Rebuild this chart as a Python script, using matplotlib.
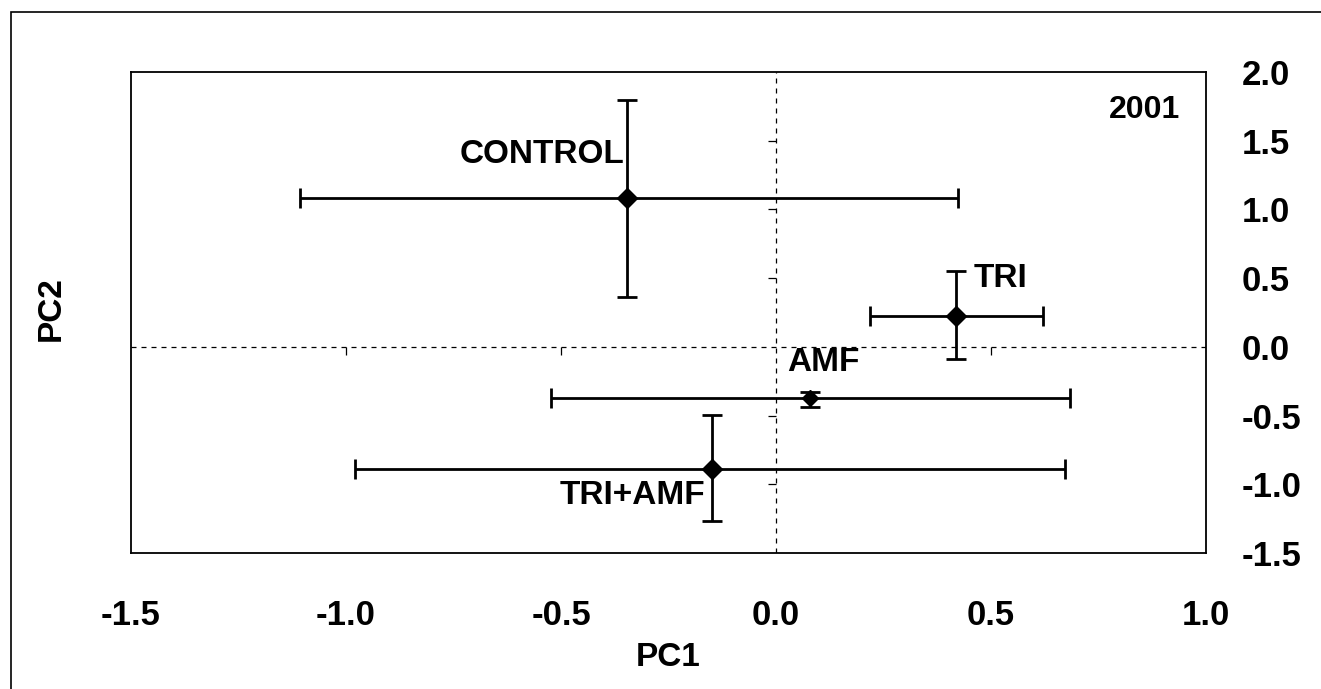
import matplotlib
matplotlib.use("Agg")
import matplotlib.pyplot as plt
from matplotlib.patches import Rectangle

plt.rcParams['font.family'] = ['Liberation Sans', 'DejaVu Sans']
plt.rcParams['font.weight'] = 'bold'

# groups and PCA scores (mean +/- error)
groups = ["CONTROL", "TRI", "AMF", "TRI+AMF"]
pc1 = [-0.347, 0.419, 0.079, -0.149]
pc2 = [1.083, 0.224, -0.373, -0.889]
pc1_lo = [-1.107, 0.219, -0.523, -0.979]
pc1_hi = [0.423, 0.621, 0.684, 0.672]
pc2_lo = [0.362, -0.089, -0.438, -1.268]
pc2_hi = [1.796, 0.552, -0.33, -0.496]

xticks = [-1.5, -1.0, -0.5, 0.0, 0.5, 1.0]
yticks = [-1.5, -1.0, -0.5, 0.0, 0.5, 1.0, 1.5, 2.0]

# label offsets from each point (dx, dy, alignment)
label_off = {"CONTROL": (-0.005, 0.32, "right"),
             "TRI": (0.04, 0.27, "left"),
             "AMF": (-0.053, 0.262, "left"),
             "TRI+AMF": (-0.016, -0.19, "right")}

fig = plt.figure(figsize=(13.21, 6.89), dpi=100)
ax = fig.add_axes([131 / 1321, 1 - 553 / 689, 1075 / 1321, 481 / 689])

# outer frame
fig.patches.append(Rectangle((11 / 1321, -0.1), 1.2, 1 - 12 / 689 + 0.1,
                             transform=fig.transFigure, fill=False,
                             edgecolor='black', linewidth=1.2))

# dashed zero axes with their little tick marks
ax.axhline(0, color='black', linestyle=(0, (4, 4)), linewidth=0.9)
ax.axvline(0, color='black', linestyle=(0, (4, 4)), linewidth=0.9)
inner_y = [v for v in yticks if v not in (0.0, 2.0, -1.5)]
inner_x = [v for v in xticks if v not in (0.0, 1.0, -1.5)]
ax.plot([0] * len(inner_y), inner_y, ls='none', marker=0, ms=6,
        mew=0.9, color='black')
ax.plot(inner_x, [0] * len(inner_x), ls='none', marker=3, ms=6,
        mew=0.9, color='black')

for i, g in enumerate(groups):
    xerr = [[pc1[i] - pc1_lo[i]], [pc1_hi[i] - pc1[i]]]
    yerr = [[pc2[i] - pc2_lo[i]], [pc2_hi[i] - pc2[i]]]
    ax.errorbar(pc1[i], pc2[i], xerr=xerr, yerr=yerr, fmt='D', color='black',
                markersize=10 if g != "AMF" else 8, elinewidth=2.0,
                capsize=7, capthick=2.0)
    dx, dy, ha = label_off[g]
    ax.text(pc1[i] + dx, pc2[i] + dy, g, ha=ha, va='center',
            fontsize=24, fontweight='bold')

ax.text(0.976, 0.922, "2001", transform=ax.transAxes, ha='right', va='center',
        fontsize=23, fontweight='bold')

ax.set_xlim(-1.5, 1.0)
ax.set_ylim(-1.5, 2.0)
ax.set_xticks(xticks)
ax.set_yticks(yticks)
ax.set_xticklabels([f"{v:.1f}" for v in xticks])
ax.set_yticklabels([f"{v:.1f}" for v in yticks])
ax.yaxis.tick_right()
ax.tick_params(axis='both', length=0, labelsize=25)
ax.tick_params(axis='x', pad=33)
ax.tick_params(axis='y', pad=26)
for s in ax.spines.values():
    s.set_linewidth(1.3)

ax.set_xlabel("PC1", fontsize=24, fontweight='bold', labelpad=7)
fig.text(51 / 1321, 1 - 309 / 689, "PC2", rotation=90, ha='center',
         va='center', fontsize=24, fontweight='bold')

fig.savefig("out.png", dpi=100)
